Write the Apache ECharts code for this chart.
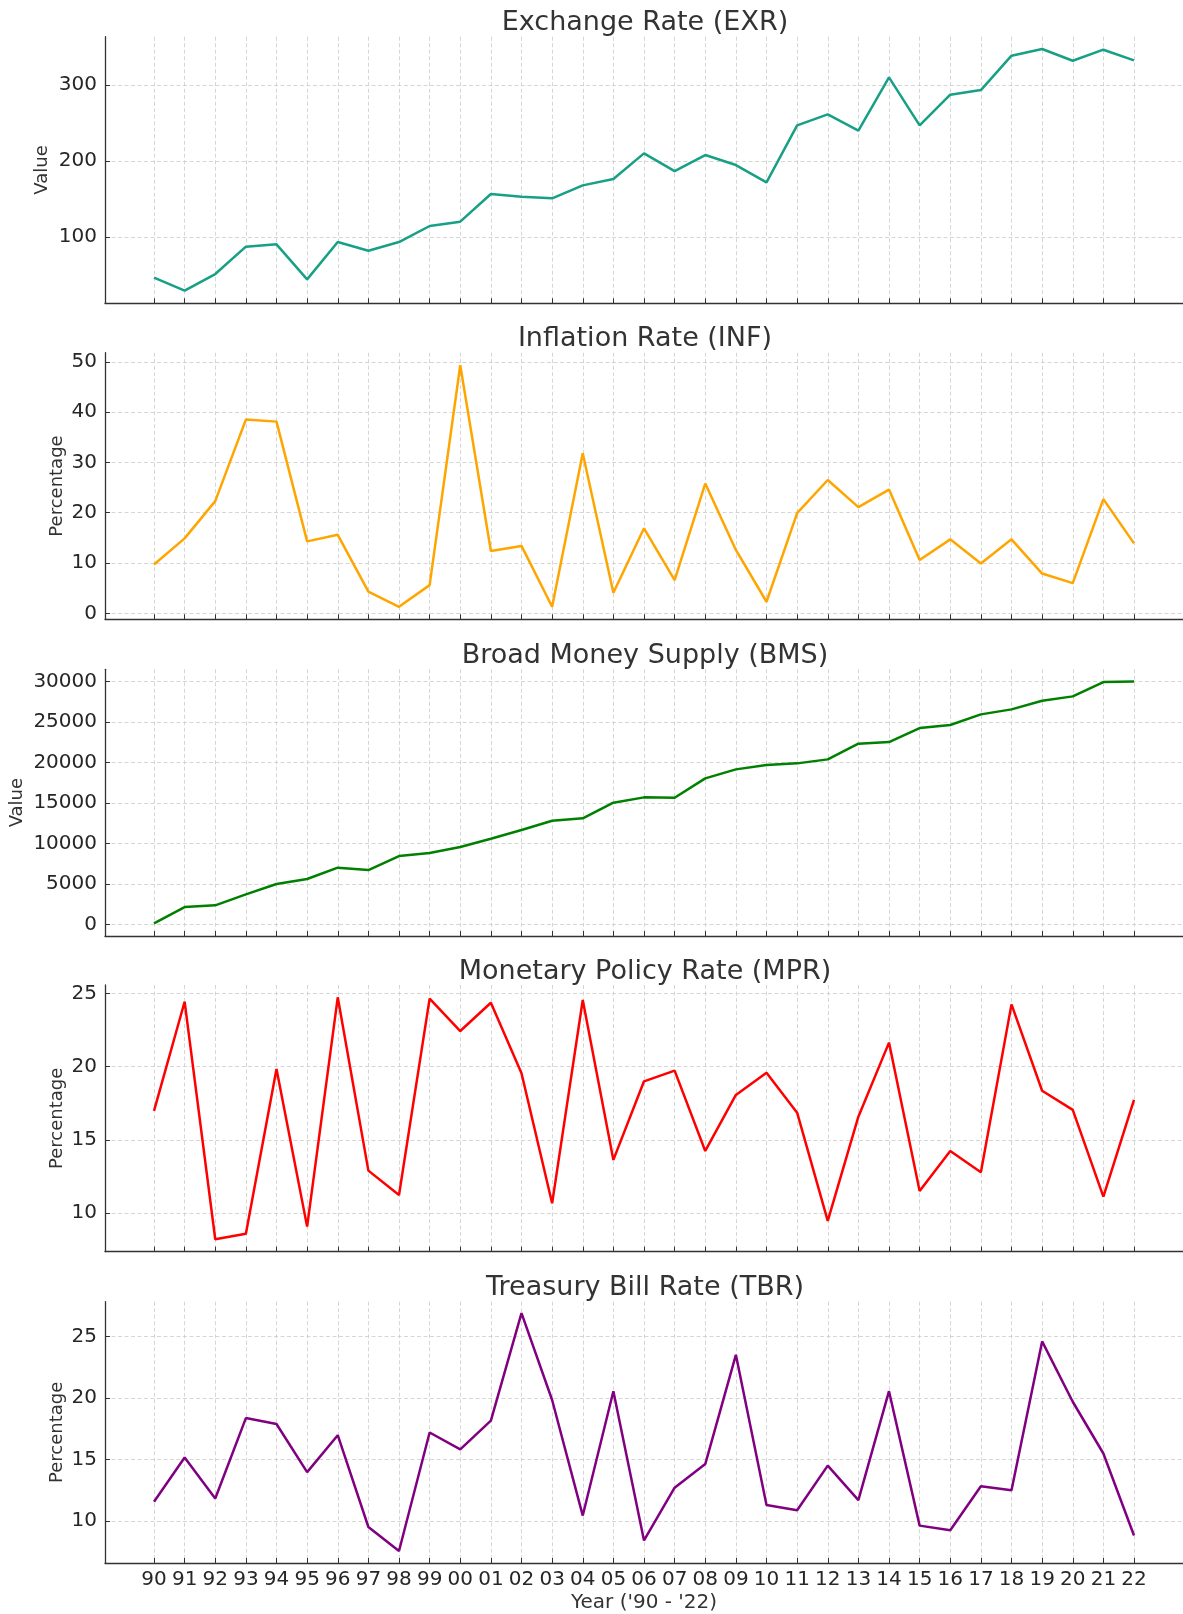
<!DOCTYPE html>
<html>
<head>
<meta charset="utf-8">
<script src="https://cdn.jsdelivr.net/npm/echarts@6/dist/echarts.min.js"></script>
<style>
  html, body { margin: 0; padding: 0; background: #fff; }
  #chart { width: 1183px; height: 1614px; }
</style>
</head>
<body>
<div id="chart"></div>
<script>
const years = ['90', '91', '92', '93', '94', '95', '96', '97', '98', '99', '00', '01', '02', '03', '04', '05',
  '06', '07', '08', '09', '10', '11', '12', '13', '14', '15', '16', '17', '18', '19', '20', '21', '22'];

const exr = [46.5, 29.4, 51.3, 87.3, 90.4, 44.3, 93.4, 82, 93.4, 114.5, 120.2, 156.6, 153, 150.9, 168, 176.3,
  210.1, 186.8, 207.9, 194.7, 171.9, 246.9, 261.4, 239.9, 310.1, 246.9, 287.3, 293.4, 338.6, 347.4, 332, 346.5, 332.5];
const inf = [9.7, 14.9, 22.3, 38.5, 38.1, 14.3, 15.6, 4.3, 1.3, 5.6, 49.3, 12.4, 13.4, 1.3, 31.8, 4.1,
  16.9, 6.6, 25.8, 12.6, 2.3, 19.9, 26.5, 21.1, 24.6, 10.6, 14.7, 9.9, 14.7, 7.9, 6.0, 22.7, 13.9];
const bms = [165, 2181, 2387, 3745, 5020, 5638, 7037, 6749, 8477, 8847, 9588, 10617, 11687, 12839, 13127, 15061,
  15719, 15678, 18065, 19176, 19711, 19917, 20411, 22345, 22550, 24279, 24649, 25966, 26583, 27653, 28188, 29957, 30039];
const mpr = [16.98, 24.43, 8.23, 8.61, 19.84, 9.09, 24.73, 12.91, 11.25, 24.64, 22.43, 24.36, 19.55, 10.68, 24.55, 13.64,
  19.0, 19.73, 14.25, 18.07, 19.59, 16.86, 9.48, 16.59, 21.64, 11.52, 14.25, 12.8, 24.25, 18.36, 17.05, 11.14, 17.73];
const tbr = [11.57, 15.18, 11.84, 18.38, 17.9, 13.98, 16.99, 9.52, 7.57, 17.21, 15.84, 18.17, 26.92, 19.85, 10.45, 20.57,
  8.43, 12.72, 14.64, 23.53, 11.31, 10.88, 14.51, 11.71, 20.57, 9.63, 9.25, 12.83, 12.51, 24.62, 19.71, 15.5, 8.83];

const exrTicks = [100, 200, 300];
const infTicks = [0, 10, 20, 30, 40, 50];
const bmsTicks = [0, 5000, 10000, 15000, 20000, 25000, 30000];
const mprTicks = [10, 15, 20, 25];
const tbrTicks = [10, 15, 20, 25];

const font = 'DejaVu Sans';
const dark = '#333333';

const panels = [
  { title: 'Exchange Rate (EXR)', yName: 'Value', data: exr, ticks: exrTicks, color: '#17a085',
    top: 36.7, height: 266.6, min: 12.8, max: 363.6, nameGap: 54 },
  { title: 'Inflation Rate (INF)', yName: 'Percentage', data: inf, ticks: infTicks, color: '#ffa500',
    top: 352.7, height: 266.6, min: -1.19, max: 51.8, nameGap: 38.5 },
  { title: 'Broad Money Supply (BMS)', yName: 'Value', data: bms, ticks: bmsTicks, color: '#008000',
    top: 669.3, height: 266.7, min: -1395, max: 31530, nameGap: 79 },
  { title: 'Monetary Policy Rate (MPR)', yName: 'Percentage', data: mpr, ticks: mprTicks, color: '#ff0000',
    top: 985, height: 266.7, min: 7.38, max: 25.57, nameGap: 38.5 },
  { title: 'Treasury Bill Rate (TBR)', yName: 'Percentage', data: tbr, ticks: tbrTicks, color: '#800080',
    top: 1301.7, height: 265.6, min: 6.59, max: 27.85, nameGap: 38.5 }
];

const idx = years.map((y, i) => i);
const gridLine = { show: true, lineStyle: { color: '#cccccc', type: [4, 2.5], width: 0.8 } };

const chart = echarts.init(document.getElementById('chart'), null, { renderer: 'canvas' });

const option = {
  animation: false,
  backgroundColor: '#ffffff',
  title: panels.map(p => ({
    text: p.title,
    left: 640,
    top: p.top - 32,
    textAlign: 'center',
    textStyle: { fontFamily: font, fontSize: 27, fontWeight: 'normal', color: dark }
  })),
  grid: panels.map(p => ({ left: 105, right: -3, top: p.top, height: p.height })),
  xAxis: panels.map((p, k) => ({
    type: 'value',
    gridIndex: k,
    min: -1.6,
    max: 33.6,
    axisLine: { show: true, onZero: false, lineStyle: { color: dark, width: 1.3 } },
    axisTick: { show: true, inside: true, length: 5, customValues: idx, lineStyle: { color: dark, width: 1 } },
    axisLabel: {
      show: k === panels.length - 1,
      customValues: idx,
      margin: 7,
      fontFamily: font, fontSize: 20, color: '#262626',
      formatter: v => years[Math.round(v)]
    },
    splitLine: gridLine,
    name: k === panels.length - 1 ? "Year ('90 - '22)" : '',
    nameLocation: 'middle',
    nameGap: 30,
    nameMoveOverlap: false,
    nameTextStyle: { fontFamily: font, fontSize: 20, color: dark }
  })),
  yAxis: panels.map((p, k) => ({
    type: 'value',
    gridIndex: k,
    min: p.min,
    max: p.max,
    axisLine: { show: true, onZero: false, lineStyle: { color: dark, width: 1.3 } },
    axisTick: { show: true, inside: true, length: 5, customValues: p.ticks, lineStyle: { color: dark, width: 1 } },
    axisLabel: {
      customValues: p.ticks, margin: 8, fontFamily: font, fontSize: 20, color: '#262626',
      formatter: v => String(v)
    },
    splitLine: gridLine,
    name: p.yName,
    nameLocation: 'middle',
    nameGap: p.nameGap,
    nameMoveOverlap: false,
    nameTextStyle: { fontFamily: font, fontSize: 18, color: dark }
  })),
  series: panels.map((p, k) => ({
    type: 'line',
    xAxisIndex: k,
    yAxisIndex: k,
    data: p.data.map((v, i) => [i, v]),
    showSymbol: false,
    lineStyle: { color: p.color, width: 2.5 },
    itemStyle: { color: p.color }
  }))
};

chart.setOption(option);
</script>
</body>
</html>
